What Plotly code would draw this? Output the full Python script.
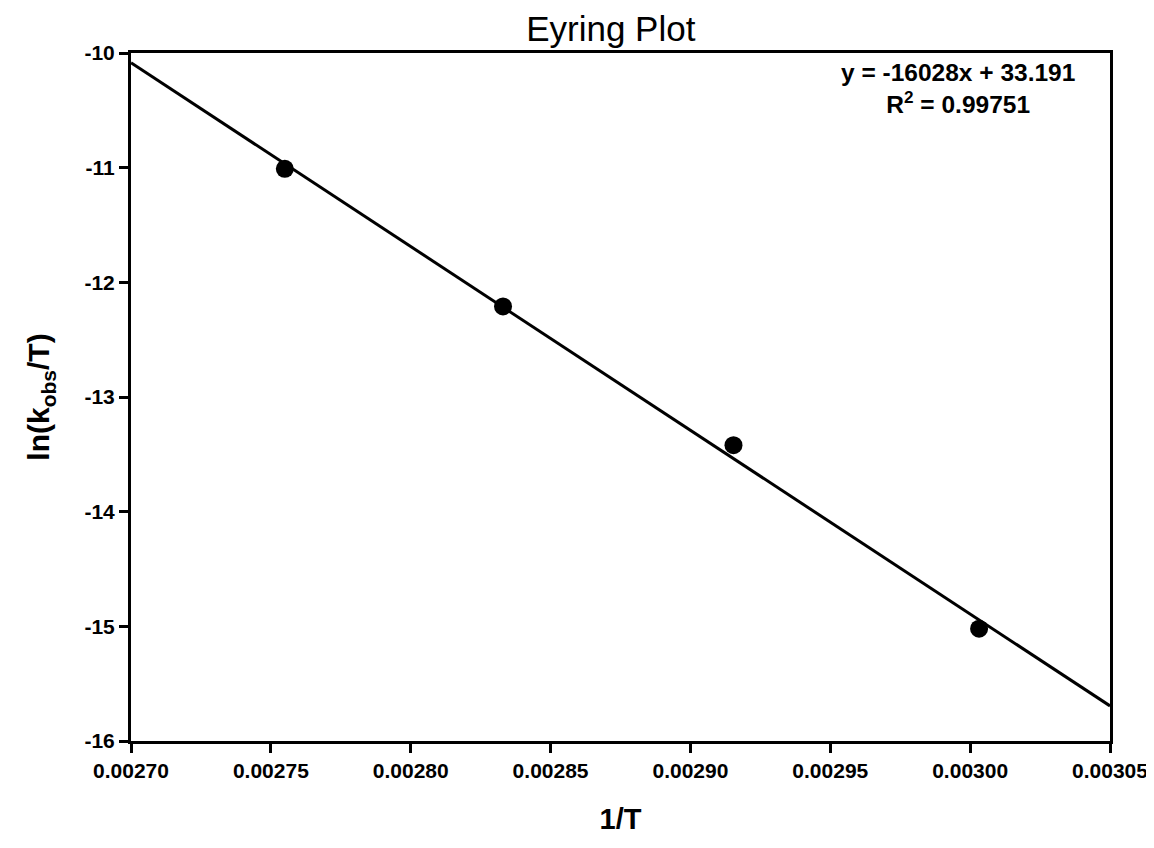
import plotly.graph_objects as go

# Data
inv_T = [0.002755, 0.002833, 0.0029154, 0.0030032]
ln_k_over_T = [-11.01, -12.21, -13.42, -15.02]

# Regression line endpoints (y = -16028x + 33.191)
fit_x = [0.00270, 0.00305]
fit_y = [-10.085, -15.694]

x_ticks = [0.00270, 0.00275, 0.00280, 0.00285, 0.00290, 0.00295, 0.00300, 0.00305]
x_tick_labels = ["0.00270", "0.00275", "0.00280", "0.00285", "0.00290", "0.00295", "0.00300", "0.00305"]
y_ticks = [-16, -15, -14, -13, -12, -11, -10]
y_tick_labels = ["-16", "-15", "-14", "-13", "-12", "-11", "-10"]

FONT = "Liberation Sans, Arial, sans-serif"

fig = go.Figure()
fig.add_trace(go.Scatter(x=fit_x, y=fit_y, mode="lines",
                         line=dict(color="black", width=3), showlegend=False,
                         hoverinfo="skip"))
fig.add_trace(go.Scatter(x=inv_T, y=ln_k_over_T, mode="markers",
                         marker=dict(color="black", size=18), showlegend=False))

axis_common = dict(showline=True, linecolor="black", linewidth=3, mirror=True,
                   ticks="outside", ticklen=9, tickwidth=3, tickcolor="black",
                   showgrid=False, zeroline=False, automargin=False,
                   tickfont=dict(family=FONT, size=21, color="black", weight="bold"))

fig.update_xaxes(range=[0.00270, 0.00305], tickvals=x_ticks, ticktext=x_tick_labels,
                 title=dict(text="1/T", font=dict(family=FONT, size=29, color="black", weight="bold"),
                            standoff=28),
                 **axis_common)
fig.update_yaxes(range=[-16, -10], tickvals=y_ticks, ticktext=y_tick_labels,
                 title=dict(text="ln(k<sub>obs</sub>/T)", font=dict(family=FONT, size=30, color="black", weight="bold"),
                            standoff=26),
                 **axis_common)

fig.add_annotation(xref="x", yref="paper", x=0.0029957, y=0.994, yanchor="top", xanchor="center",
                   text="y = -16028x + 33.191<br>R<sup>2</sup> = 0.99751", showarrow=False,
                   align="center",
                   font=dict(family=FONT, size=24.5, color="black", weight="bold"))

# The page body adds an 8 px offset, so the figure is sized and margined to compensate
fig.update_layout(
    width=1146, height=840,
    margin=dict(l=123, r=44, t=45, b=107, autoexpand=False),
    paper_bgcolor="white", plot_bgcolor="white",
    title=dict(text="Eyring Plot", x=0.526, xanchor="center", y=0.975, yanchor="middle",
               font=dict(family=FONT, size=35, color="black")),
)

fig.write_html("out.html")
